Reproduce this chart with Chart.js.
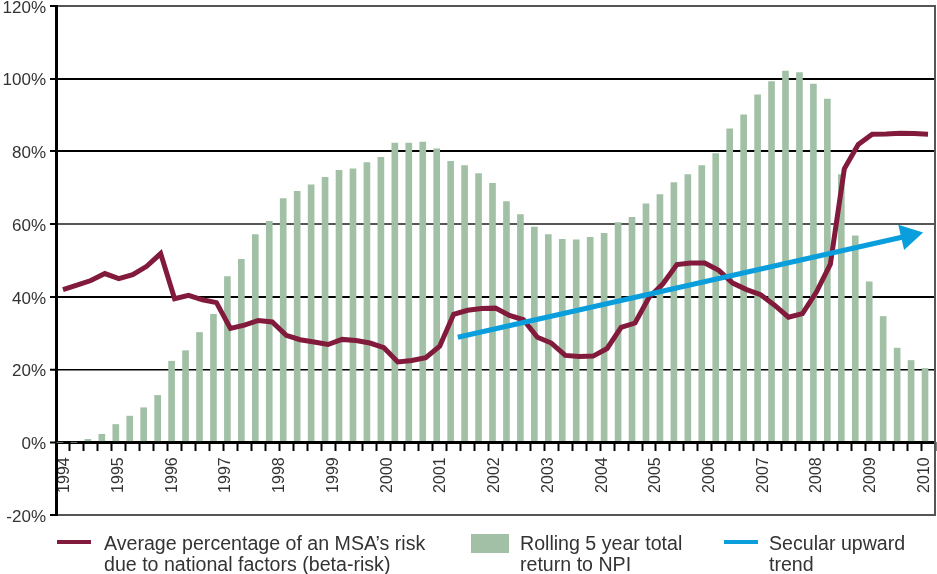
<!DOCTYPE html>
<html>
<head>
<meta charset="utf-8">
<script src="https://cdn.jsdelivr.net/npm/chart.js@4/dist/chart.umd.min.js"></script>
<style>
  html, body { margin: 0; padding: 0; background: #fff; }
  canvas { display: block; }
</style>
</head>
<body>
<canvas id="myChart" width="937" height="574"></canvas>
<script>
// Year labels under the axis
var years = ['1994', '1995', '1996', '1997', '1998', '1999', '2000', '2001', '2002',
             '2003', '2004', '2005', '2006', '2007', '2008', '2009', '2010'];

// Rolling 5 year total return to NPI (%), one bar per period
var npiReturn = [0, 0, 0.8, 2.2, 4.9, 7.2, 9.5, 12.9, 22.3, 25.2,
                 30.2, 35.2, 45.6, 50.3, 57.1, 60.8, 67.0, 69.0, 70.8, 72.9,
                 74.8, 75.2, 76.9, 78.4, 82.3, 82.3, 82.6, 80.7, 77.3, 76.1,
                 73.9, 71.2, 66.2, 62.6, 59.2, 57.1, 55.8, 55.7, 56.4, 57.5,
                 60.4, 61.9, 65.6, 68.1, 71.4, 73.6, 76.1, 79.4, 86.2, 90.1,
                 95.6, 99.2, 102.1, 101.7, 98.5, 94.4, 73.6, 56.8, 44.1, 34.6,
                 25.9, 22.5, 20.3];

// Average percentage of an MSA's risk due to national factors (%)
var betaRisk = [42.0, 43.2, 44.5, 46.4, 45.0, 46.1, 48.4, 51.9, 39.5, 40.4,
                39.2, 38.4, 31.3, 32.2, 33.5, 33.1, 29.4, 28.2, 27.6, 26.9,
                28.3, 28.0, 27.3, 26.0, 22.1, 22.5, 23.3, 26.4, 35.2, 36.3,
                36.8, 36.9, 34.9, 33.7, 28.9, 27.3, 23.9, 23.6, 23.7, 25.8,
                31.6, 32.8, 39.8, 43.6, 48.9, 49.3, 49.3, 47.3, 43.8, 42.0,
                40.6, 37.7, 34.4, 35.4, 41.3, 49.0, 75.2, 81.9, 84.7, 84.8,
                85.0, 84.9, 84.7];

// Secular upward trend (start and arrow end, x in periods)
var trendX = [28.3, 60.6];
var trendY = [28.9, 56.8];

var periods = [];
for (var i = 0; i < npiReturn.length; i++) periods.push('P' + (i + 1));

var trendData = [];
for (var j = 0; j < trendX.length; j++) trendData.push({ x: trendX[j], y: trendY[j] });

var MAROON = '#821a3c';
var GREEN = '#a2c0a6';
var BLUE = '#0a9fdc';
var TEXT = '#333333';
var NARROW = '"Liberation Sans Narrow", "Liberation Sans", Arial, sans-serif';

// legend with two-line labels, drawn under the plot
var twoLineLegend = {
    id: 'twoLineLegend',
    afterDraw: function (chart) {
        var ctx = chart.ctx;
        var ds = chart.data.datasets;
        var slots = [
            { ds: 0, kind: 'line', x: 57, tx: 104 },
            { ds: 1, kind: 'box', x: 471, tx: 520 },
            { ds: 2, kind: 'line', x: 724, tx: 769 }
        ];
        ctx.save();
        ctx.font = '20px ' + NARROW;
        var w = ctx.measureText(ds[0].label[0]).width;
        var size = Math.min(24, 20 * 322 / w);
        ctx.font = size.toFixed(1) + 'px ' + NARROW;
        ctx.textBaseline = 'alphabetic';
        slots.forEach(function (s) {
            var d = ds[s.ds];
            if (s.kind === 'line') {
                ctx.fillStyle = d.borderColor;
                ctx.fillRect(s.x, 540, 34, 4);
            } else {
                ctx.fillStyle = d.backgroundColor;
                ctx.fillRect(s.x, 534, 38, 19);
            }
            ctx.fillStyle = TEXT;
            ctx.fillText(d.label[0], s.tx, 550);
            ctx.fillText(d.label[1], s.tx, 571);
        });
        ctx.restore();
    }
};

var ctx = document.getElementById('myChart').getContext('2d');

var config = {
    type: 'bar',
    data: {
        labels: periods,
        datasets: [
            {
                type: 'line',
                label: ['Average percentage of an MSA\u2019s risk', 'due to national factors (beta-risk)'],
                data: betaRisk,
                borderColor: MAROON,
                backgroundColor: MAROON,
                borderWidth: 5,
                pointRadius: 0,
                tension: 0,
                order: 1
            },
            {
                type: 'bar',
                label: ['Rolling 5 year total', 'return to NPI'],
                data: npiReturn,
                backgroundColor: GREEN,
                barThickness: 6,
                order: 2
            },
            {
                type: 'line',
                label: ['Secular upward', 'trend'],
                data: trendData,
                xAxisID: 'xYear',
                borderColor: BLUE,
                backgroundColor: BLUE,
                borderWidth: 5,
                pointStyle: 'triangle',
                pointRadius: [0, 15],
                pointRotation: 77,
                pointBorderWidth: 0,
                pointBackgroundColor: BLUE,
                clip: false,
                order: 0
            }
        ]
    },
    options: {
        responsive: false,
        animation: false,
        layout: { autoPadding: false, padding: { left: 2, right: 2, top: 6, bottom: 59 } },
        plugins: {
            legend: { display: false },
            tooltip: { enabled: false }
        },
        scales: {
            x: {
                type: 'category',
                offset: true,
                position: { y: 0 },
                grid: {
                    offset: true,
                    drawOnChartArea: false,
                    tickLength: 9,
                    tickWidth: 2,
                    tickColor: '#000',
                    color: '#000'
                },
                border: { display: false },
                ticks: { display: false, autoSkip: false }
            },
            // same span as x (periods -0.5 .. 62.5), used for year labels and the trend arrow
            xYear: {
                type: 'linear',
                axis: 'x',
                offset: false,
                position: { y: 0 },
                min: -0.5,
                max: 62.5,
                grid: { display: false, drawTicks: false, offset: false },
                border: { display: false },
                afterBuildTicks: function (s) {
                    s.ticks = years.map(function (y, k) { return { value: 0.14 + 3.85 * k }; });
                },
                afterFit: function (s) {
                    s.paddingLeft = 0;
                    s.paddingRight = 0;
                },
                ticks: {
                    autoSkip: false,
                    minRotation: 90,
                    maxRotation: 90,
                    padding: 15,
                    color: TEXT,
                    font: { family: NARROW, size: 16 },
                    callback: function (v, idx) { return years[idx]; }
                }
            },
            y: {
                min: -20,
                max: 120,
                ticks: {
                    stepSize: 20,
                    padding: 4,
                    labelOffset: 2,
                    color: TEXT,
                    font: { family: '"Liberation Sans", Arial, sans-serif', size: 17 },
                    callback: function (v) { return v + '%'; }
                },
                grid: {
                    color: function (c) {
                        var v = c.tick.value;
                        return (v === 120 || v === 60 || v === -20) ? '#555' : '#000';
                    },
                    lineWidth: function (c) {
                        var v = c.tick.value;
                        if (v === 0) return 3;
                        if (v === 20) return 1.5;
                        return 2;
                    },
                    tickLength: 6,
                    tickWidth: 2,
                    tickColor: '#000'
                },
                border: { color: '#000', width: 3 },
                afterFit: function (s) {
                    s.width = 54;
                    s.paddingTop = 0;
                    s.paddingBottom = 0;
                }
            },
            yRight: {
                position: 'right',
                grid: { display: false, drawTicks: false },
                ticks: { display: false },
                border: { color: '#555', width: 2 }
            }
        }
    },
    plugins: [twoLineLegend]
};

var myChart = new Chart(ctx, config);
</script>
</body>
</html>
